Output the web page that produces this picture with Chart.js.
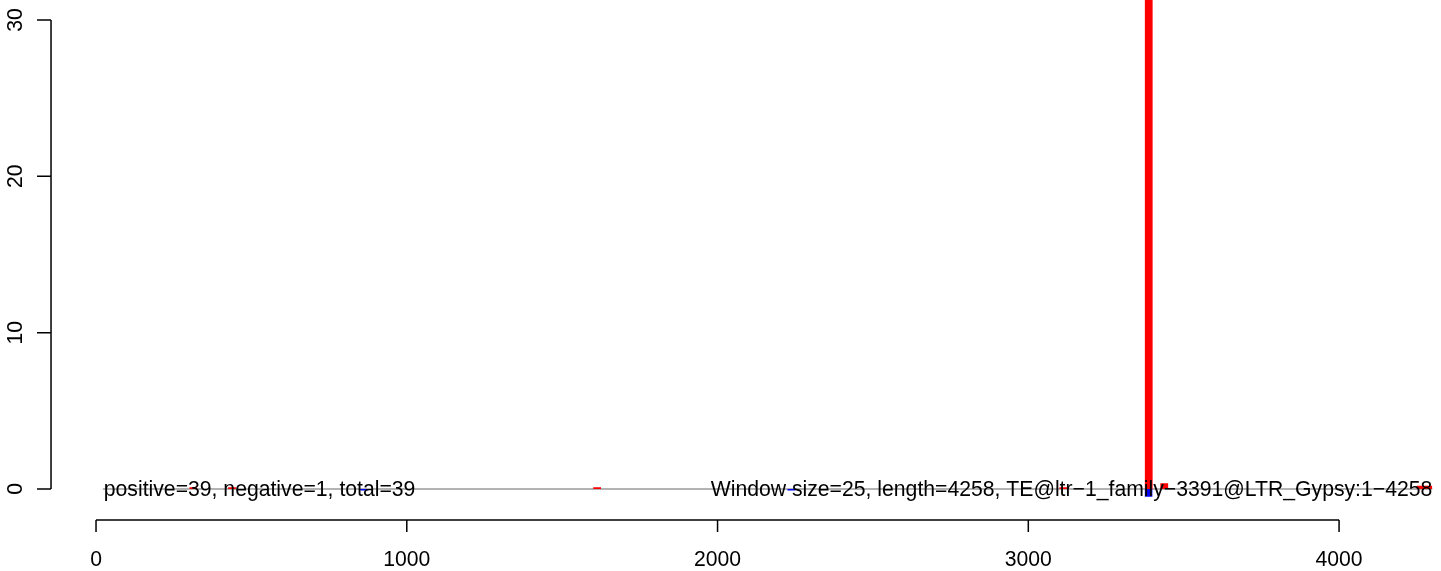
<!DOCTYPE html>
<html>
<head>
<meta charset="utf-8">
<script src="https://cdn.jsdelivr.net/npm/chart.js@4/dist/chart.umd.min.js"></script>
<style>
  html, body { margin: 0; padding: 0; background: #fff; }
  #wrap { width: 1441px; height: 571px; position: relative; }
</style>
</head>
<body>
<div id="wrap"><canvas id="teChart"></canvas></div>
<script>
// window coverage, window size 25
const windowSize = 25;
const posStarts = [300, 425, 1600, 3100, 3375, 3425, 4250, 4275];
const posValues = [0.1, 0.1, 0.1, 0.1, 38, 0.36, 0.2, 0.2];
const negStarts = [850, 2225, 3375];
const negValues = [-0.1, -0.1, -0.5];
const baseLineX = [22, 4300];
const xTicks = [0, 1000, 2000, 3000, 4000];
const yTicks = [0, 10, 20, 30];
const leftNote = "positive=39, negative=1, total=39";
const rightNote = "Window size=25, length=4258, TE@ltr\u22121_family\u22123391@LTR_Gypsy:1\u22124258";
const noteLeftX = 25, noteRightX = 4300;

const FONT = '21.2px "Liberation Sans", Arial, sans-serif';

function steps(starts, vals) {
    let pts = [];
    starts.forEach((s, i) => {
        pts.push({x: s, y: 0}, {x: s, y: vals[i]}, {x: s + windowSize, y: vals[i]}, {x: s + windowSize, y: 0});
    });
    return pts;
}

const rAxes = {
    id: 'rAxes',
    afterDatasetsDraw(chart) {
        const ctx = chart.ctx, xs = chart.scales.x, ys = chart.scales.y;
        ctx.save();
        ctx.strokeStyle = '#000'; ctx.fillStyle = '#000'; ctx.lineWidth = 1.5; ctx.font = FONT;
        // notes on the zero line
        const y0 = ys.getPixelForValue(0);
        ctx.textBaseline = 'middle';
        ctx.textAlign = 'left'; ctx.fillText(leftNote, xs.getPixelForValue(noteLeftX), y0 + 1);
        ctx.textAlign = 'right'; ctx.fillText(rightNote, xs.getPixelForValue(noteRightX), y0 + 1);
        // x axis (detached, below)
        const ax = y0 + 31, tl = 12;
        ctx.beginPath();
        ctx.moveTo(xs.getPixelForValue(xTicks[0]), ax); ctx.lineTo(xs.getPixelForValue(xTicks[xTicks.length-1]), ax);
        xTicks.forEach(t => { const p = xs.getPixelForValue(t); ctx.moveTo(p, ax); ctx.lineTo(p, ax + tl); });
        ctx.stroke();
        ctx.textAlign = 'center'; ctx.textBaseline = 'middle';
        xTicks.forEach(t => ctx.fillText(String(t), xs.getPixelForValue(t), ax + 40));
        // y axis (left)
        const ay = xs.getPixelForValue(0) - 45;
        ctx.beginPath();
        ctx.moveTo(ay, ys.getPixelForValue(yTicks[0])); ctx.lineTo(ay, ys.getPixelForValue(yTicks[yTicks.length-1]));
        yTicks.forEach(t => { const p = ys.getPixelForValue(t); ctx.moveTo(ay, p); ctx.lineTo(ay - 14, p); });
        ctx.stroke();
        yTicks.forEach(t => {
            ctx.save(); ctx.translate(ay - 35, ys.getPixelForValue(t)); ctx.rotate(-Math.PI/2);
            ctx.fillText(String(t), 0, 0); ctx.restore();
        });
        ctx.restore();
    }
};

new Chart(document.getElementById('teChart'), {
    type: 'line',
    data: {
        datasets: [
            { data: steps(posStarts, posValues), borderWidth: 0, borderColor: 'rgba(0,0,0,0)', backgroundColor: '#ff0000', fill: 'origin', pointRadius: 0, tension: 0, order: 1 },
            { data: steps(negStarts, negValues), borderWidth: 0, borderColor: 'rgba(0,0,0,0)', backgroundColor: '#0000ff', fill: 'origin', pointRadius: 0, tension: 0, order: 1 },
            { data: baseLineX.map(x => ({x: x, y: 0})), borderWidth: 1.5, borderColor: '#9a9a9a', fill: false, pointRadius: 0, order: 3 }
        ]
    },
    options: {
        responsive: true, maintainAspectRatio: false, animation: false,
        layout: { padding: 0 },
        plugins: { legend: { display: false }, tooltip: { enabled: false } },
        scales: {
            x: { type: 'linear', min: -309, max: 4328, display: false },
            y: { type: 'linear', min: -5.25, max: 31.28, display: false }
        }
    },
    plugins: [rAxes]
});
</script>
</body>
</html>
